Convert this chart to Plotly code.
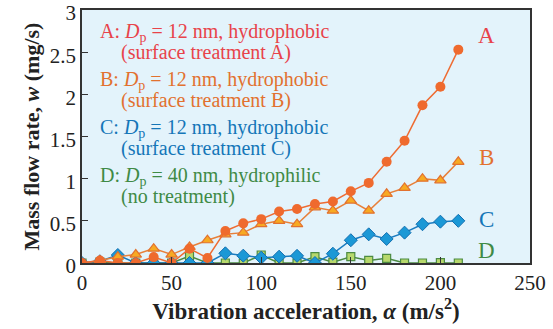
import plotly.graph_objects as go

# Vibration acceleration (m/s^2)
accel = [0, 10, 20, 30, 40, 50, 60, 70, 80, 90, 100,
         110, 120, 130, 140, 150, 160, 170, 180, 190, 200, 210]

# Mass flow rate (mg/s) for each powder condition
flow_a = [0, 0.03, 0, 0, 0.07, 0, 0.17, 0.06, 0.38, 0.47, 0.52,
          0.61, 0.64, 0.70, 0.73, 0.85, 0.95, 1.20, 1.45, 1.87, 2.09, 2.53]
flow_b = [0, 0.03, 0.075, 0.10, 0.17, 0.10, 0.19, 0.27, 0.34, 0.36, 0.46,
          0.50, 0.46, 0.66, 0.62, 0.74, 0.62, 0.82, 0.89, 1.00, 0.98, 1.20]
flow_c = [0, 0.02, 0.095, 0, 0, 0, 0, 0, 0.115, 0.087, 0.063,
          0.075, 0.085, 0, 0.11, 0.27, 0.34, 0.285, 0.36, 0.46, 0.49, 0.50]
flow_d = [0, 0.01, 0, 0, 0, 0, 0.083, 0, 0, 0, 0.095,
          0, 0, 0.075, 0.01, 0.075, 0.03, 0.055, 0, 0, 0.005, 0]

x_ticks = [0, 50, 100, 150, 200, 250]
y_ticks = [0, 0.5, 1, 1.5, 2, 2.5, 3]
y_tick_text = ["0", "0.5", "1", "1.5", "2", "2.5", "3"]

legend_lines = [
    ("A: <i>D</i><sub>p</sub> = 12 nm, hydrophobic", "(surface treatment A)", "#e8434a"),
    ("B: <i>D</i><sub>p</sub> = 12 nm, hydrophobic", "(surface treatment B)", "#e2712f"),
    ("C: <i>D</i><sub>p</sub> = 12 nm, hydrophobic", "(surface treatment C)", "#1476b8"),
    ("D: <i>D</i><sub>p</sub> = 40 nm, hydrophilic", "(no treatment)", "#3f8a45"),
]
end_labels = [("A", 2.7, "#e8434a"), ("B", 1.25, "#e2712f"),
              ("C", 0.52, "#1476b8"), ("D", 0.15, "#3f8a45")]

SERIF = "'Liberation Serif', 'Times New Roman', serif"

fig = go.Figure()

fig.add_trace(go.Scatter(
    x=accel, y=flow_d, mode="lines+markers",
    line=dict(color="#4d8b43", width=1.5),
    marker=dict(symbol="square", size=8, color="#b7d86c",
                line=dict(color="#4d8b43", width=1.2)),
))
fig.add_trace(go.Scatter(
    x=accel, y=flow_c, mode="lines+markers",
    line=dict(color="#1a7cc0", width=1.5),
    marker=dict(symbol="diamond", size=10, color="#1b98d6",
                line=dict(color="#136fb0", width=1)),
))
fig.add_trace(go.Scatter(
    x=accel, y=flow_b, mode="lines+markers",
    line=dict(color="#e8803a", width=1.5),
    marker=dict(symbol="triangle-up", size=10, color="#f7aa22",
                line=dict(color="#e2712f", width=1.2)),
))
fig.add_trace(go.Scatter(
    x=accel, y=flow_a, mode="lines+markers",
    line=dict(color="#ee6c33", width=1.5),
    marker=dict(symbol="circle", size=10, color="#ef6a2e",
                line=dict(color="#ef6a2e", width=0)),
))

annotations = []
y_line = 0.913
for first, second, color in legend_lines:
    annotations.append(dict(
        x=0.036, y=y_line, xref="paper", yref="paper", text=first,
        showarrow=False, xanchor="left", yanchor="middle",
        font=dict(family=SERIF, size=20, color=color)))
    annotations.append(dict(
        x=0.082, y=y_line - 0.082, xref="paper", yref="paper", text=second,
        showarrow=False, xanchor="left", yanchor="middle",
        font=dict(family=SERIF, size=20, color=color)))
    y_line -= 0.19

for label, yv, color in end_labels:
    annotations.append(dict(
        x=226, y=yv, xref="x", yref="y", text=label, showarrow=False,
        xanchor="center", yanchor="middle",
        font=dict(family=SERIF, size=23, color=color)))

axis_common = dict(
    showline=True, linecolor="#333333", linewidth=1.5, mirror=True,
    ticks="inside", ticklen=6, tickcolor="#333333", tickwidth=1.2,
    showgrid=False, zeroline=False, automargin=False,
    ticklabeloverflow="allow",
    tickfont=dict(family=SERIF, size=21, color="#222222"),
)

fig.update_layout(
    width=553, height=329,
    margin=dict(l=82, r=23, t=10, b=66, autoexpand=False),
    paper_bgcolor="white", plot_bgcolor="#e3f3fb",
    showlegend=False,
    annotations=annotations,
    xaxis=dict(
        range=[0, 250], tickvals=x_ticks, **axis_common,
        title=dict(text="Vibration acceleration, <i>α</i> (m/s<sup>2</sup>)",
                   font=dict(family=SERIF, size=23, color="#222222", weight="bold"),
                   standoff=3),
    ),
    yaxis=dict(
        range=[0, 3], tickvals=y_ticks, ticktext=y_tick_text, **axis_common,
        ticklabelshift=3,
        title=dict(text="Mass flow rate, <i>w</i> (mg/s)",
                   font=dict(family=SERIF, size=22, color="#222222", weight="bold"),
                   standoff=4),
    ),
)

fig.write_html("out.html")
